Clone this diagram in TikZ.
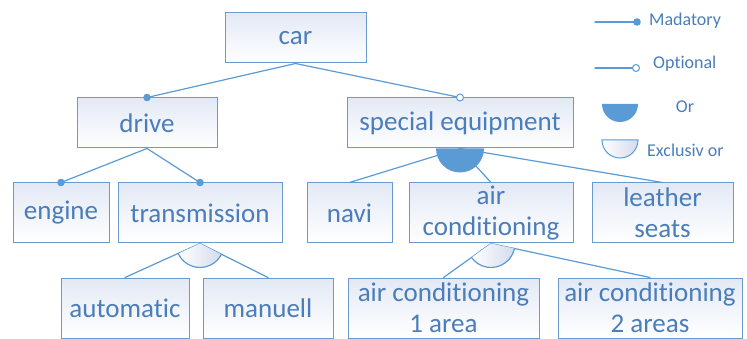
\documentclass[tikz,border=0pt]{standalone}
\usepackage{fontspec}
\setmainfont{Carlito}[Ligatures={NoCommon,NoContextual}]
\usepackage{tikz}
\usetikzlibrary{arrows.meta}
\usepackage{xcolor}
\definecolor{linblue}{HTML}{5B9BD5}
\definecolor{boxblue}{HTML}{6A9AD0}
\definecolor{txtblue}{HTML}{4A7DBA}
\definecolor{boxtop}{HTML}{E3E9F5}
\definecolor{xortint}{HTML}{D3DBEC}

\begin{document}
\begin{tikzpicture}[x=1pt,y=1pt,line cap=round,
  feat/.style={draw=boxblue,line width=1pt,top color=boxtop,bottom color=white,text=txtblue,
    align=center,inner sep=0pt,font=\fontsize{27}{31}\selectfont},
  conn/.style={draw=linblue,line width=1.2pt},
  mand/.style={fill=linblue},
  opt/.style={draw=linblue,fill=white,line width=1pt},
  orsym/.style={fill=linblue},
  xorsym/.style={draw=linblue,line width=1pt,left color=white,right color=xortint},
  legtext/.style={text=txtblue,font=\fontsize{18}{21}\selectfont,inner sep=0pt}]
\useasboundingbox (0,0) rectangle (747,-339);
% features
\node[feat,minimum width=141,minimum height=50] (car) at (295.5,-38) {car};
\node[feat,minimum width=140,minimum height=50] (drive) at (147,-123) {drive};
\node[feat,minimum width=226,minimum height=50] (special) at (460,-123) {special equipment};
\node[feat,minimum width=96,minimum height=60] (engine) at (61,-213) {engine};
\node[feat,minimum width=164,minimum height=60] (trans) at (200,-213) {transmission};
\node[feat,minimum width=85,minimum height=60] (navi) at (349.5,-213) {navi};
\node[feat,minimum width=164,minimum height=60] (aircond) at (491,-213) {air\\conditioning};
\node[feat,minimum width=141,minimum height=60] (leather) at (662.5,-213) {leather\\seats};
\node[feat,minimum width=128,minimum height=60] (auto) at (125,-308) {automatic};
\node[feat,minimum width=130,minimum height=60] (manu) at (268,-308) {manuell};
\node[feat,minimum width=191,minimum height=60] (acone) at (443.5,-308) {air conditioning\\1 area};
\node[feat,minimum width=184,minimum height=60] (actwo) at (650,-308) {air conditioning\\2 areas};
% relations
\draw[conn] (car.south) -- (drive.north);
\draw[conn] (car.south) -- (special.north);
\draw[conn] (drive.south) -- (engine.north);
\draw[conn] (drive.south) -- (trans.north);
\draw[conn] (special.south) -- (navi.north);
\draw[conn] (special.south) -- (aircond.north);
\draw[conn] (special.south) -- (leather.north);
\draw[conn] (trans.south) -- (auto.north);
\draw[conn] (trans.south) -- (manu.north);
\draw[conn] (aircond.south) -- (acone.north);
\draw[conn] (aircond.south) -- (actwo.north);
\fill[mand] (drive.north) circle (3.8);
\fill[mand] (engine.north) circle (3.8);
\fill[mand] (trans.north) circle (3.8);
\draw[opt] (special.north) circle (3.5);
\fill[orsym] (special.south) ++(-24,0) arc[start angle=180,end angle=360,radius=24] -- cycle;
\shade[left color=white,right color=xortint] (trans.south) -- ++(205:24) arc[start angle=205,end angle=333,radius=24] -- cycle;
\draw[conn] (trans.south) ++(205:24) arc[start angle=205,end angle=333,radius=24];
\shade[left color=white,right color=xortint] (aircond.south) -- ++(216:24) arc[start angle=216,end angle=348,radius=24] -- cycle;
\draw[conn] (aircond.south) ++(216:24) arc[start angle=216,end angle=348,radius=24];
% legend
\coordinate (mandA) at (595,-22);
\coordinate (mandB) at (637,-22);
\draw[conn] (mandA) -- (mandB);
\fill[mand] (mandB) circle (3.8);
\node[legtext,anchor=west] (mandtxt) at (649,-21) {Madatory};
\coordinate (optA) at (595,-68);
\coordinate (optB) at (636,-68);
\draw[conn] (optA) -- (optB);
\draw[opt] (optB) circle (3.5);
\node[legtext,anchor=west] (opttxt) at (653,-64) {Optional};
\coordinate (orleg) at (620,-104);
\fill[orsym] (orleg) ++(-18,0) arc[start angle=180,end angle=360,radius=18] -- cycle;
\node[legtext] (ortxt) at (685,-107) {Or};
\coordinate (xorleg) at (620,-140);
\draw[xorsym] (xorleg) ++(-18,0) arc[start angle=180,end angle=360,radius=18] -- cycle;
\node[legtext,anchor=west] (xortxt) at (647,-150) {Exclusiv or};
\end{tikzpicture}
\end{document}
